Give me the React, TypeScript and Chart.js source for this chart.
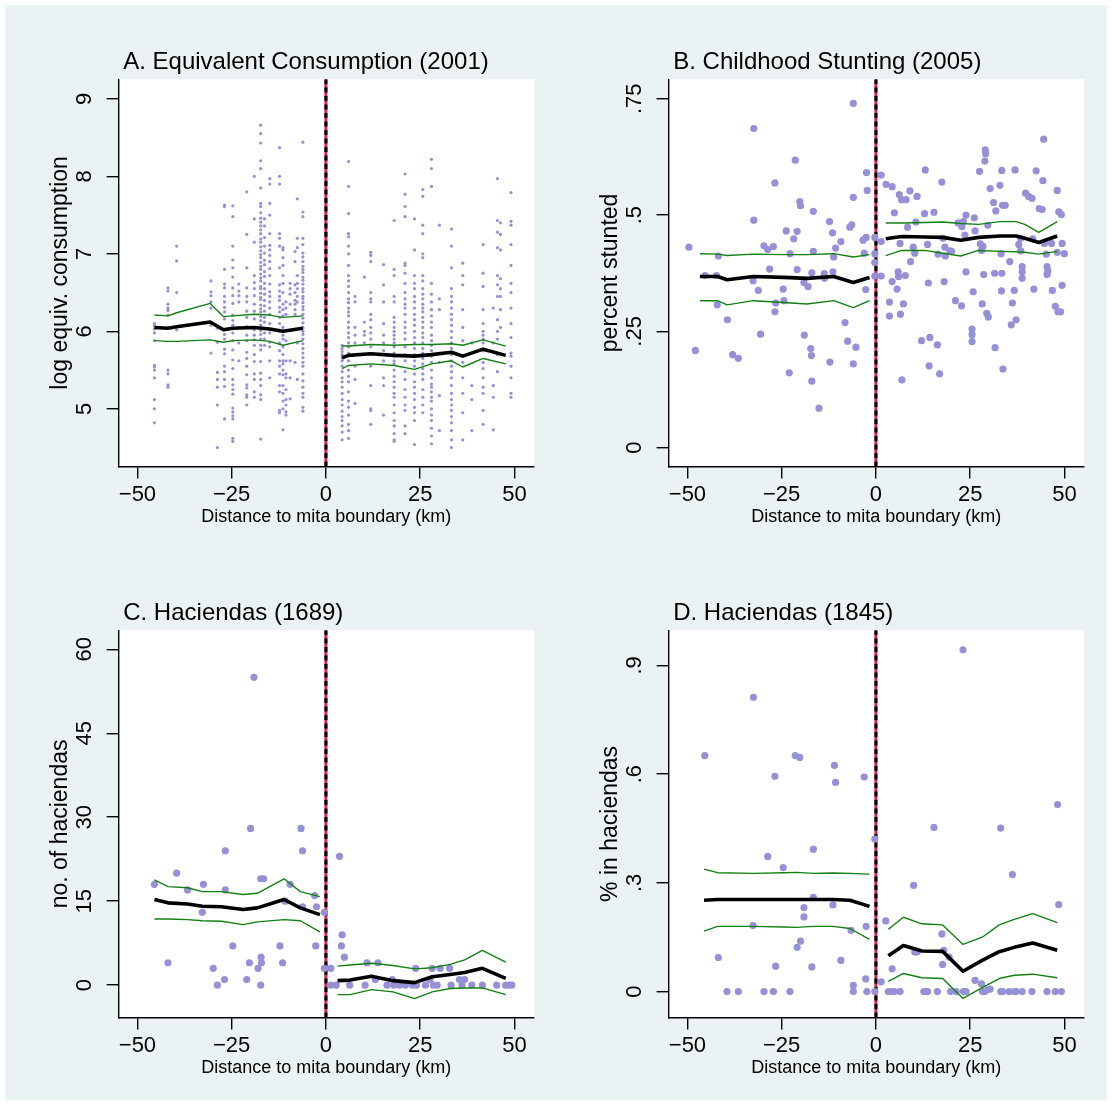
import React, { useEffect, useRef } from 'react';
import { Chart, registerables } from 'chart.js';

Chart.register(...registerables);

const FONT = "'Liberation Sans', Arial, Helvetica, sans-serif";
const PAGE_BG = '#eaf2f3';
const DOT = '#9691d6';
const GREEN = '#138013';
const RED = '#d8204c';

// ---------- shared axis ----------
const xTickValues = [-50, -25, 0, 25, 50];
const xTickLabels = ['\u221250', '\u221225', '0', '25', '50'];
const xTitle = 'Distance to mita boundary (km)';

// ---------- Panel A: log equivalent consumption (2001) ----------
const consTicks = [5, 6, 7, 8, 9];
const consTickLabels = ['5', '6', '7', '8', '9'];
// each row: [distance, household values...]
const consumptionWest: number[][] = [
  [-45.5, 6.10, 6.07, 6.03, 5.98, 5.88, 5.56, 5.54, 5.50, 5.40, 5.12, 5.00, 4.82],
  [-41.9, 6.56, 6.52, 6.35, 6.30, 6.27, 6.21, 6.05, 5.50, 5.45, 5.31, 5.28],
  [-39.6, 7.10, 6.91, 6.50, 6.06, 6.02],
  [-30.5, 6.65, 6.51, 6.46, 6.38, 6.30, 6.11, 6.08, 5.72],
  [-28.8, 6.04, 5.86, 5.47, 5.38, 5.28, 5.05, 4.50],
  [-26.9, 7.63, 7.61, 6.80, 6.61, 6.56, 6.45, 6.38, 6.31, 6.25, 6.16, 6.02, 5.96, 5.90, 5.77, 5.71, 5.55, 5.48, 5.38, 5.29, 4.87],
  [-24.7, 7.62, 7.48, 7.10, 6.92, 6.82, 6.70, 6.56, 6.46, 6.36, 6.21, 6.14, 6.08, 5.98, 5.88, 5.76, 5.63, 5.52, 5.38, 5.31, 5.25, 5.19, 5.01, 4.96, 4.91, 4.87, 4.62, 4.58],
  [-23.1, 6.61, 6.52, 6.46, 6.38, 6.05, 5.85, 5.62],
  [-21.0, 7.80, 7.25, 6.82, 6.56, 6.45, 6.38, 6.26, 6.18, 6.06, 5.95, 5.88, 5.73, 5.65, 5.55, 5.44, 5.31, 5.27, 5.18, 5.15, 5.05],
  [-19.0, 8.00, 7.45, 7.15, 6.72, 6.63, 6.55, 6.46, 6.35, 6.26, 6.16, 6.02, 5.95, 5.89, 5.82, 5.70, 5.61, 5.45, 5.38, 5.22, 5.15],
  [-17.3, 8.66, 8.55, 8.43, 8.20, 8.10, 7.85, 7.65, 7.61, 7.53, 7.46, 7.41, 7.36, 7.31, 7.26, 7.19, 7.15, 7.09, 7.04, 6.99, 6.95, 6.89, 6.84, 6.80, 6.74, 6.69, 6.65, 6.58, 6.55, 6.49, 6.44, 6.41, 6.34, 6.29, 6.25, 6.19, 6.14, 6.08, 6.01, 5.96, 5.90, 5.82, 5.76, 5.61, 5.46, 5.38, 5.30, 5.18, 5.12, 4.61],
  [-16.3, 7.45, 7.36, 7.21, 7.10, 7.01, 6.92, 6.86, 6.77, 6.71, 6.62, 6.55, 6.48, 6.40, 6.33, 6.26, 6.18, 6.12, 6.04, 5.98, 5.90, 5.82],
  [-14.9, 7.97, 7.90, 7.65, 7.50, 7.26, 7.11, 7.05, 6.98, 6.90, 6.81, 6.72, 6.61, 6.51, 6.45, 6.38, 6.30, 6.22, 6.10, 5.98, 5.86, 5.80, 5.62, 5.40],
  [-12.3, 8.37, 8.00, 7.90, 7.26, 7.20, 7.10, 6.82, 6.60, 6.52, 6.45, 6.40, 6.31, 6.25, 6.18, 6.10, 6.00, 5.85, 5.75, 5.62, 5.55, 5.45, 5.30, 5.22, 4.98, 4.95],
  [-11.4, 7.08, 7.05, 6.95, 6.85, 6.72, 6.62, 6.50, 6.35, 6.28, 6.20, 6.05, 5.95, 5.90, 5.80, 5.70, 5.62, 5.58, 5.50, 5.44, 5.30, 5.20, 5.10, 5.00, 4.73],
  [-10.6, 6.38, 6.30, 6.22, 5.88, 5.62, 5.45, 5.40, 5.25, 5.12, 5.05, 4.96, 4.92],
  [-9.5, 6.62, 6.55, 6.48, 6.35, 5.62, 5.40, 5.13],
  [-8.2, 7.03, 6.90, 6.60, 6.50, 6.40, 6.35, 6.28, 6.22, 5.60],
  [-7.6, 7.71, 7.20, 7.08, 6.72, 6.62, 6.55, 6.45, 6.38, 5.85, 5.38],
  [-6.1, 8.44, 7.54, 7.48, 7.20, 7.12, 7.01, 6.96, 6.90, 6.84, 6.80, 6.76, 6.70, 6.66, 6.61, 6.55, 6.51, 6.45, 6.42, 6.37, 6.32, 6.28, 6.22, 6.17, 6.11, 6.05, 6.00, 5.96, 5.90, 5.84, 5.78, 5.72, 5.66, 5.60, 5.55, 5.45, 5.36, 5.28, 5.20, 5.15, 5.02, 4.97],
];
const consumptionEast: number[][] = [
  [4.3, 5.82, 5.78, 5.74, 5.70, 5.66, 5.62, 5.55, 5.48, 5.40, 5.35, 5.28, 5.20, 5.12, 5.05, 4.97, 4.90, 4.85, 4.78, 4.70, 4.60],
  [6.0, 8.19, 7.87, 7.52, 7.26, 7.22, 7.10, 7.00, 6.85, 6.72, 6.65, 6.58, 6.50, 6.42, 6.37, 6.30, 6.25, 6.20, 6.12, 6.05, 5.98, 5.92, 5.85, 5.80, 5.72, 5.62, 5.50, 5.42, 5.35, 5.22, 5.10, 5.02, 4.92, 4.80, 4.72, 4.62],
  [7.7, 6.45, 6.38, 6.05, 5.95, 5.85, 5.55, 5.38, 5.07],
  [10.2, 6.70, 6.12, 6.00, 5.95, 5.85],
  [11.9, 7.02, 6.98, 6.90, 6.50, 6.42, 6.38, 6.22, 6.15, 6.05, 5.98, 5.90, 5.80, 5.55, 5.30, 5.00, 4.98, 4.80],
  [15.3, 6.86, 6.60, 6.38, 6.10, 5.95, 5.85, 5.75, 5.62, 5.40, 5.30, 4.92],
  [18.1, 7.43, 6.80, 6.72, 6.45, 6.38, 6.18, 6.12, 6.05, 6.00, 5.95, 5.90, 5.85, 5.80, 5.72, 5.68, 5.62, 5.58, 5.50, 5.42, 5.35, 5.28, 5.20, 5.15, 5.05, 4.95, 4.85, 4.78, 4.68, 4.60, 4.58],
  [21.0, 8.03, 7.77, 7.61, 7.48, 6.88, 6.85, 6.75, 6.62, 6.50, 6.42, 6.35, 6.30, 6.22, 6.12, 6.05, 5.98, 5.90, 5.80, 5.70, 5.62, 5.48, 5.38, 5.25, 5.15, 5.05, 4.98, 4.78, 4.68],
  [23.5, 7.45, 7.05, 6.72, 6.62, 6.55, 6.45, 6.38, 6.30, 6.22, 6.15, 6.08, 6.00, 5.92, 5.85, 5.78, 5.70, 5.62, 5.55, 5.45, 5.35, 5.28, 5.20, 5.12, 5.02, 4.95, 4.85, 4.54],
  [25.7, 7.83, 7.74, 7.37, 7.26, 7.00, 6.95, 6.72, 6.65, 6.55, 6.48, 6.42, 6.35, 6.30, 6.25, 6.18, 6.12, 6.05, 5.98, 5.92, 5.85, 5.78, 5.72, 5.65, 5.58, 5.52, 5.45, 5.38, 5.25, 5.15, 5.05, 4.95],
  [28.0, 8.22, 8.10, 7.87, 6.62, 6.48, 6.38, 6.28, 6.20, 6.12, 6.05, 5.95, 5.88, 5.82, 5.75, 5.68, 5.60, 5.50, 5.40, 5.32, 5.28, 5.22, 5.15, 5.10, 5.00, 4.92, 4.85, 4.75, 4.65, 4.55],
  [30.1, 7.37, 6.42, 6.28, 5.60, 5.17, 4.72],
  [33.3, 7.32, 7.10, 6.82, 6.55, 6.45, 6.38, 6.30, 6.22, 6.15, 6.08, 6.00, 5.92, 5.85, 5.78, 5.70, 5.62, 5.55, 5.48, 5.40, 5.30, 5.20, 5.12, 5.05, 4.98, 4.90, 4.82, 4.72, 4.60, 4.50],
  [36.3, 6.88, 6.72, 6.60, 6.28, 6.05, 5.88, 5.60, 5.40, 5.20, 4.95, 4.60],
  [38.7, 5.85, 5.30, 5.12, 4.72],
  [41.7, 7.12, 6.75, 6.58, 6.28, 6.10, 6.00, 5.95, 5.90, 5.85, 5.75, 5.60, 5.52, 5.40, 5.28, 5.20, 4.98, 4.80],
  [44.4, 6.30, 5.85, 5.30, 5.15, 4.73],
  [45.5, 7.97, 7.43, 7.28, 7.08, 6.72, 6.60, 6.45, 6.15, 6.00, 5.90, 5.70, 5.48],
  [46.3, 7.40, 7.25, 7.05, 6.68, 6.55, 6.45, 6.28, 6.05],
  [49.1, 7.79, 7.42, 7.37, 7.12, 6.85, 6.62, 6.50, 6.30, 6.10, 5.92, 5.72, 5.68, 5.55, 5.40, 5.20, 5.15],
];
// rows: [distance, fit, upper CI, lower CI]
const consumptionFitWest: number[][] = [
  [-45.5, 6.05, 6.21, 5.88], [-41.9, 6.04, 6.20, 5.87], [-39.6, 6.06, 6.24, 5.87],
  [-30.7, 6.12, 6.36, 5.89], [-27.2, 6.02, 6.19, 5.86], [-24.7, 6.04, 6.20, 5.88],
  [-19.0, 6.05, 6.22, 5.89], [-14.9, 6.03, 6.21, 5.87], [-11.4, 6.00, 6.18, 5.82],
  [-6.1, 6.04, 6.20, 5.88],
];
const consumptionFitEast: number[][] = [
  [4.3, 5.66, 5.81, 5.52], [6.0, 5.69, 5.81, 5.56], [11.9, 5.71, 5.83, 5.58],
  [18.1, 5.69, 5.82, 5.56], [23.5, 5.68, 5.83, 5.51], [28.0, 5.70, 5.83, 5.58],
  [33.3, 5.73, 5.84, 5.62], [36.3, 5.68, 5.82, 5.54], [41.7, 5.77, 5.89, 5.65],
  [47.7, 5.69, 5.81, 5.58],
];

// ---------- Panel B: childhood stunting (2005) ----------
const stuntTicks = [0, 0.25, 0.5, 0.75];
const stuntTickLabels = ['0', '.25', '.5', '.75'];
const stuntingPoints: number[][] = [
  [-49.6, 0.431], [-47.9, 0.209], [-45.3, 0.370], [-42.3, 0.370], [-41.8, 0.412], [-42.1, 0.307],
  [-39.4, 0.275], [-38.0, 0.200], [-36.5, 0.192], [-32.6, 0.359], [-32.4, 0.686], [-32.4, 0.489],
  [-31.2, 0.338], [-30.6, 0.244], [-29.7, 0.434], [-28.7, 0.426], [-28.2, 0.384], [-27.2, 0.432],
  [-26.8, 0.569], [-26.6, 0.311], [-26.8, 0.292], [-24.6, 0.341], [-24.4, 0.316], [-23.8, 0.466],
  [-23.0, 0.161], [-22.8, 0.417], [-21.8, 0.449], [-21.4, 0.618], [-20.9, 0.465], [-20.9, 0.383],
  [-20.2, 0.529], [-20.0, 0.520], [-19.1, 0.355], [-19.0, 0.242], [-18.0, 0.346], [-17.3, 0.213],
  [-17.1, 0.198], [-17.0, 0.143], [-17.0, 0.376], [-16.6, 0.508], [-16.6, 0.422], [-15.1, 0.085],
  [-13.7, 0.374], [-13.6, 0.364], [-12.3, 0.486], [-12.2, 0.184], [-11.5, 0.462], [-11.4, 0.378],
  [-11.2, 0.410], [-10.7, 0.429], [-9.3, 0.443], [-8.2, 0.269], [-7.5, 0.229], [-6.9, 0.474],
  [-6.4, 0.479], [-6.0, 0.740], [-6.0, 0.538], [-6.0, 0.180], [-5.3, 0.216], [-3.4, 0.446],
  [-3.1, 0.418], [-2.7, 0.340], [-2.6, 0.452], [-2.5, 0.591], [-2.3, 0.553], [-0.3, 0.452],
  [-0.3, 0.417], [-0.3, 0.398], [-0.3, 0.369],
  [1.4, 0.586], [1.4, 0.443], [1.4, 0.369], [2.7, 0.566], [4.3, 0.561], [4.3, 0.357], [4.9, 0.505],
  [3.6, 0.313], [3.6, 0.283], [5.6, 0.341], [5.9, 0.378], [6.0, 0.368], [6.2, 0.544], [6.4, 0.439],
  [6.5, 0.287], [6.8, 0.533], [6.9, 0.146], [7.3, 0.309], [7.8, 0.370], [8.0, 0.533], [8.4, 0.474],
  [9.0, 0.552], [9.2, 0.400], [9.9, 0.431], [10.3, 0.418], [10.6, 0.485], [10.9, 0.540], [12.1, 0.230],
  [12.9, 0.503], [13.1, 0.597], [13.7, 0.437], [13.9, 0.354], [14.1, 0.176], [14.3, 0.237], [15.4, 0.506],
  [16.3, 0.221], [16.5, 0.416], [16.9, 0.159], [17.5, 0.571], [17.8, 0.450], [18.1, 0.357], [18.3, 0.431],
  [18.4, 0.412], [19.6, 0.423], [20.1, 0.422], [21.1, 0.316], [21.8, 0.483], [22.7, 0.305], [22.8, 0.475],
  [23.2, 0.486], [23.6, 0.457], [23.9, 0.500], [23.9, 0.378], [25.5, 0.255], [25.5, 0.243], [25.5, 0.228],
  [25.8, 0.335], [26.1, 0.494], [26.3, 0.466], [27.5, 0.594], [27.7, 0.438], [28.0, 0.424], [28.2, 0.309],
  [28.4, 0.433], [28.6, 0.372], [29.0, 0.640], [29.1, 0.632], [28.9, 0.616], [29.4, 0.289], [29.8, 0.281],
  [29.7, 0.478], [30.3, 0.557], [31.2, 0.527], [31.6, 0.215], [31.8, 0.509], [31.5, 0.375], [32.9, 0.564],
  [33.2, 0.417], [33.3, 0.337], [33.4, 0.375], [33.4, 0.596], [33.7, 0.169], [33.6, 0.521], [34.3, 0.521],
  [35.5, 0.400], [35.9, 0.264], [36.2, 0.311], [36.7, 0.338], [36.9, 0.597], [37.2, 0.275], [37.9, 0.437],
  [38.4, 0.450], [38.4, 0.423], [38.8, 0.389], [38.8, 0.378], [38.8, 0.364], [39.7, 0.547], [40.5, 0.540],
  [41.4, 0.536], [41.6, 0.449], [41.9, 0.341], [42.5, 0.595], [43.3, 0.514], [44.1, 0.512], [44.3, 0.574],
  [44.5, 0.663], [44.7, 0.439], [45.2, 0.416], [45.4, 0.389], [45.6, 0.380], [45.4, 0.372], [46.6, 0.439],
  [46.8, 0.338], [47.6, 0.304], [48.1, 0.553], [48.1, 0.420], [48.3, 0.292], [48.5, 0.507], [49.0, 0.292],
  [49.2, 0.501], [49.4, 0.439], [49.4, 0.349], [50.0, 0.417],
];
const stuntingFitWest: number[][] = [
  [-46.7, 0.368, 0.417, 0.316], [-42.0, 0.368, 0.416, 0.316], [-39.5, 0.361, 0.413, 0.307],
  [-32.5, 0.368, 0.416, 0.316], [-24.5, 0.366, 0.415, 0.312], [-18.3, 0.364, 0.415, 0.309],
  [-11.2, 0.368, 0.417, 0.316], [-6.0, 0.355, 0.410, 0.301], [-1.7, 0.366, 0.415, 0.316],
];
const stuntingFitEast: number[][] = [
  [2.6, 0.449, 0.483, 0.413], [6.8, 0.454, 0.483, 0.424], [13.0, 0.453, 0.484, 0.424],
  [17.7, 0.452, 0.485, 0.418], [22.5, 0.446, 0.482, 0.412], [27.2, 0.452, 0.480, 0.424],
  [32.9, 0.455, 0.486, 0.422], [37.2, 0.455, 0.486, 0.421], [39.5, 0.450, 0.480, 0.420],
  [43.2, 0.441, 0.463, 0.416], [48.1, 0.455, 0.486, 0.422],
];

// ---------- Panel C: haciendas (1689) ----------
const hac1689Ticks = [0, 15, 30, 45, 60];
const hac1689TickLabels = ['0', '15', '30', '45', '60'];
const haciendas1689Points: number[][] = [
  [-45.5, 18], [-41.9, 4], [-39.6, 20], [-36.7, 17], [-32.8, 13], [-32.5, 18], [-29.9, 3], [-28.8, 0],
  [-26.9, 1], [-26.7, 24], [-26.7, 17], [-24.7, 7], [-21.0, 1], [-20.3, 4], [-20.0, 28], [-19.1, 55],
  [-18.0, 3], [-17.3, 0], [-17.2, 5], [-17.1, 4], [-17.3, 19], [-16.5, 19], [-12.2, 7], [-11.5, 4],
  [-10.8, 15], [-9.5, 18], [-6.6, 28], [-6.2, 24], [-6.2, 14], [-3.0, 16], [-2.7, 7], [-2.5, 14],
  [-0.4, 13], [-0.4, 3],
  [1.3, 3], [1.3, 0], [2.7, 0], [3.6, 23], [4.3, 9], [4.1, 7], [4.9, 5], [6.3, 0], [10.4, 0], [10.9, 4],
  [13.1, 1], [13.8, 4], [16.2, 0], [17.6, 1], [18.0, 0], [19.5, 0], [21.1, 0], [23.0, 0], [23.8, 3],
  [24.0, 0], [26.4, 0], [27.6, 1], [28.2, 3], [28.5, 0], [29.5, 0], [30.3, 3], [32.8, 3], [33.2, 0],
  [35.4, 1], [36.1, 0], [36.8, 1], [38.7, 0], [41.5, 0], [45.3, 0], [47.7, 0], [48.6, 0], [49.3, 0],
];
const haciendas1689FitWest: number[][] = [
  [-45.5, 15.3, 18.8, 11.8], [-41.9, 14.7, 17.6, 11.8], [-36.7, 14.5, 17.4, 11.7],
  [-32.8, 14.1, 16.7, 11.5], [-27.7, 14.0, 16.7, 11.4], [-22.0, 13.5, 16.2, 10.8],
  [-18.2, 13.8, 16.4, 11.3], [-11.1, 15.3, 19.0, 11.7], [-6.8, 13.8, 16.7, 11.5],
  [-1.6, 12.6, 15.8, 9.5],
];
const haciendas1689FitEast: number[][] = [
  [3.1, 0.8, 3.4, -1.7], [6.4, 0.9, 3.6, -1.7], [12.1, 1.6, 3.9, -0.8], [17.8, 0.8, 3.5, -1.2],
  [23.5, 0.45, 2.9, -2.4], [28.2, 1.5, 3.1, -1.2], [33.0, 1.9, 3.7, -0.6], [36.8, 2.25, 4.5, -0.5],
  [41.5, 3.0, 6.2, -0.5], [47.7, 1.2, 4.1, -1.7],
];

// ---------- Panel D: haciendas (1845) ----------
const hac1845Ticks = [0, 0.3, 0.6, 0.9];
const hac1845TickLabels = ['0', '.3', '.6', '.9'];
const haciendas1845Points: number[][] = [
  [-45.4, 0.651], [-41.8, 0.094], [-39.5, 0], [-36.5, 0], [-32.5, 0.812], [-32.6, 0.182], [-29.7, 0],
  [-28.7, 0.373], [-27.2, 0], [-26.8, 0.594], [-26.6, 0.070], [-24.6, 0.342], [-22.8, 0], [-21.4, 0.651],
  [-20.9, 0.122], [-20.2, 0.646], [-20.0, 0.139], [-19.1, 0.232], [-19.1, 0.206], [-17.0, 0.068],
  [-16.6, 0.393], [-16.6, 0.260], [-11.4, 0.239], [-11.0, 0.624], [-10.7, 0.577], [-9.3, 0.086],
  [-6.6, 0.169], [-6.0, 0.017], [-6.0, 0], [-3.1, 0.592], [-2.7, 0.035], [-2.6, 0.180], [-2.4, 0],
  [-0.3, 0.421], [-0.3, 0],
  [1.4, 0.027], [2.6, 0.195], [3.3, 0], [4.0, 0], [4.3, 0.063], [4.9, 0], [6.4, 0], [10.0, 0.293],
  [10.3, 0.109], [10.9, 0.109], [12.7, 0], [13.2, 0], [13.7, 0], [15.4, 0.453], [16.3, 0], [17.5, 0.159],
  [17.7, 0.075], [18.0, 0.114], [19.4, 0.095], [19.8, 0], [21.3, 0], [23.1, 0.943], [23.2, 0], [23.9, 0],
  [26.3, 0.031], [28.0, 0.021], [28.3, 0], [28.9, 0], [29.6, 0.005], [30.3, 0.007], [33.1, 0.451],
  [33.1, 0], [33.6, 0], [35.3, 0], [36.2, 0.323], [36.7, 0], [37.2, 0], [38.8, 0], [41.4, 0], [45.4, 0],
  [47.6, 0], [48.2, 0.516], [48.5, 0.240], [49.2, 0],
];
const haciendas1845FitWest: number[][] = [
  [-45.6, 0.252, 0.338, 0.167], [-42.0, 0.254, 0.328, 0.180], [-32.5, 0.254, 0.326, 0.180],
  [-24.5, 0.254, 0.328, 0.178], [-21.0, 0.254, 0.329, 0.177], [-16.6, 0.254, 0.326, 0.180],
  [-11.4, 0.254, 0.327, 0.180], [-6.9, 0.252, 0.326, 0.174], [-1.7, 0.235, 0.324, 0.144],
];
const haciendas1845FitEast: number[][] = [
  [3.3, 0.099, 0.172, 0.028], [7.3, 0.127, 0.205, 0.050], [12.2, 0.112, 0.187, 0.038],
  [17.7, 0.111, 0.184, 0.036], [23.1, 0.056, 0.130, -0.019], [28.2, 0.086, 0.150, 0.011],
  [32.7, 0.110, 0.184, 0.036], [36.7, 0.122, 0.199, 0.045], [41.6, 0.134, 0.215, 0.048],
  [48.1, 0.114, 0.190, 0.038],
];

// ---------- helpers ----------
const pairsToPoints = (pairs: number[][]) => pairs.map(([x, y]) => ({ x, y }));
const columnsToPoints = (cols: number[][]) => {
  const out: { x: number; y: number }[] = [];
  cols.forEach((c) => {
    for (let i = 1; i < c.length; i++) out.push({ x: c[0], y: c[i] });
  });
  return out;
};
const fitColumn = (rows: number[][], k: number) => rows.map((r) => ({ x: r[0], y: r[k] }));

interface PanelSpec {
  title: string;
  yTitle: string;
  yMin: number;
  yMax: number;
  yTicks: number[];
  yTickLabels: string[];
  points: { x: number; y: number }[];
  pointRadius: number;
  west: number[][];
  east: number[][];
}

const panels: PanelSpec[] = [
  {
    title: 'A. Equivalent Consumption (2001)', yTitle: 'log equiv. consumption',
    yMin: 4.255, yMax: 9.253, yTicks: consTicks, yTickLabels: consTickLabels,
    points: [...columnsToPoints(consumptionWest), ...columnsToPoints(consumptionEast)], pointRadius: 1.6,
    west: consumptionFitWest, east: consumptionFitEast,
  },
  {
    title: 'B. Childhood Stunting (2005)', yTitle: 'percent stunted',
    yMin: -0.0406, yMax: 0.792, yTicks: stuntTicks, yTickLabels: stuntTickLabels,
    points: pairsToPoints(stuntingPoints), pointRadius: 3.6,
    west: stuntingFitWest, east: stuntingFitEast,
  },
  {
    title: 'C. Haciendas (1689)', yTitle: 'no. of haciendas',
    yMin: -5.8, yMax: 63.4, yTicks: hac1689Ticks, yTickLabels: hac1689TickLabels,
    points: pairsToPoints(haciendas1689Points), pointRadius: 3.6,
    west: haciendas1689FitWest, east: haciendas1689FitEast,
  },
  {
    title: 'D. Haciendas (1845)', yTitle: '% in haciendas',
    yMin: -0.0718, yMax: 0.997, yTicks: hac1845Ticks, yTickLabels: hac1845TickLabels,
    points: pairsToPoints(haciendas1845Points), pointRadius: 3.6,
    west: haciendas1845FitWest, east: haciendas1845FitEast,
  },
];

const CW = 550;
const CH = 551;
const AREA_LEFT = 118.6;
const AREA_TOP = 79.2;
const AREA_RIGHT = 534;
const AREA_BOTTOM = 466.6;
const TICK_FONT = 22;
const TICK_LEN = 12;

const decorPlugin = {
  id: 'panelDecor',
  beforeDraw(chart: any, _args: any, opts: any) {
    const { ctx, chartArea } = chart;
    ctx.save();
    ctx.fillStyle = '#ffffff';
    ctx.fillRect(chartArea.left, chartArea.top, chartArea.right - chartArea.left, chartArea.bottom - chartArea.top);
    ctx.fillStyle = '#000';
    ctx.font = `24px ${FONT}`;
    ctx.textBaseline = 'alphabetic';
    ctx.textAlign = 'left';
    ctx.fillText(opts.text, chartArea.left + 4.6, 68.6);
    ctx.restore();
  },
};

function measureWidest(labels: string[]) {
  const c = document.createElement('canvas').getContext('2d')!;
  c.font = `${TICK_FONT}px ${FONT}`;
  return Math.max(...labels.map((l) => c.measureText(l).width));
}

function makeConfig(p: PanelSpec): any {
  const line = (data: any[], color: string, width: number, order: number) => ({
    data, showLine: true, borderColor: color, borderWidth: width, pointRadius: 0,
    pointHoverRadius: 0, fill: false, tension: 0, order, borderJoinStyle: 'round',
  });
  const widest = measureWidest(p.yTickLabels);
  const yPad = AREA_LEFT - TICK_LEN - 85 - widest / 2;
  const vline = [{ x: 0, y: p.yMin }, { x: 0, y: p.yMax }];
  return {
    type: 'scatter',
    data: {
      datasets: [
        line(fitColumn(p.west, 1), '#000', 3.6, 0),
        line(fitColumn(p.east, 1), '#000', 3.6, 0),
        line(fitColumn(p.west, 2), GREEN, 1.4, 1),
        line(fitColumn(p.west, 3), GREEN, 1.4, 1),
        line(fitColumn(p.east, 2), GREEN, 1.4, 1),
        line(fitColumn(p.east, 3), GREEN, 1.4, 1),
        {
          data: p.points, pointRadius: p.pointRadius, pointHoverRadius: p.pointRadius,
          pointBackgroundColor: DOT, pointBorderWidth: 0, borderWidth: 0, showLine: false, order: 2,
        },
        { ...line(vline, '#000', 3, 3), borderDash: [5, 3.5], borderJoinStyle: 'miter' },
        { ...line(vline, RED, 3, 4), borderJoinStyle: 'miter' },
      ],
    },
    options: {
      responsive: false,
      animation: false,
      events: [],
      layout: { padding: { left: 0, top: AREA_TOP, right: CW - AREA_RIGHT, bottom: 0 } },
      plugins: {
        legend: { display: false },
        tooltip: { enabled: false },
        title: { display: false },
        panelDecor: { text: p.title },
      },
      scales: {
        x: {
          type: 'linear', position: 'bottom', min: -55, max: 55.2,
          afterBuildTicks: (s: any) => { s.ticks = xTickValues.map((v) => ({ value: v })); },
          afterFit: (s: any) => { s.height = CH - AREA_BOTTOM; },
          ticks: {
            autoSkip: false, maxRotation: 0, minRotation: 0, padding: 3.3, color: '#000',
            font: { family: FONT, size: TICK_FONT },
            callback: (_v: any, i: number) => xTickLabels[i],
          },
          grid: { display: true, drawOnChartArea: false, drawTicks: true, tickLength: TICK_LEN, color: '#000', lineWidth: 1.4 },
          border: { display: true, color: '#000', width: 1.4 },
          title: {
            display: true, text: xTitle, color: '#000',
            font: { family: FONT, size: 18 }, padding: { top: 0, bottom: 23.1 },
          },
        },
        y: {
          type: 'linear', position: 'left', min: p.yMin, max: p.yMax,
          afterBuildTicks: (s: any) => { s.ticks = p.yTicks.map((v) => ({ value: v })); },
          afterFit: (s: any) => { s.width = AREA_LEFT; },
          ticks: {
            autoSkip: false, minRotation: 90, maxRotation: 90, crossAlign: 'center', padding: yPad,
            color: '#000', font: { family: FONT, size: TICK_FONT },
            callback: (_v: any, i: number) => p.yTickLabels[i],
          },
          grid: { display: true, drawOnChartArea: false, drawTicks: true, tickLength: TICK_LEN, color: '#000', lineWidth: 1.4 },
          border: { display: true, color: '#000', width: 1.4 },
          title: {
            display: true, text: p.yTitle, color: '#000',
            font: { family: FONT, size: 23 }, padding: { top: 47, bottom: 0 },
          },
        },
      },
    },
    plugins: [decorPlugin],
  };
}

function Panel({ spec, left, top }: { spec: PanelSpec; left: number; top: number }) {
  const ref = useRef<HTMLCanvasElement>(null);
  useEffect(() => {
    if (!ref.current) return;
    const chart = new Chart(ref.current, makeConfig(spec));
    return () => chart.destroy();
  }, [spec]);
  return (
    <canvas
      ref={ref}
      width={CW}
      height={CH}
      style={{ position: 'absolute', left, top, width: CW, height: CH, display: 'block' }}
    />
  );
}

export default function App() {
  return (
    <div style={{ position: 'absolute', left: 0, top: 0, width: 1112, height: 1105, background: '#ffffff', overflow: 'hidden' }}>
      <div style={{ position: 'absolute', left: 5, top: 5, width: 1102, height: 1095, background: PAGE_BG }} />
      <Panel spec={panels[0]} left={0} top={0} />
      <Panel spec={panels[1]} left={550} top={0} />
      <Panel spec={panels[2]} left={0} top={551} />
      <Panel spec={panels[3]} left={550} top={551} />
    </div>
  );
}
